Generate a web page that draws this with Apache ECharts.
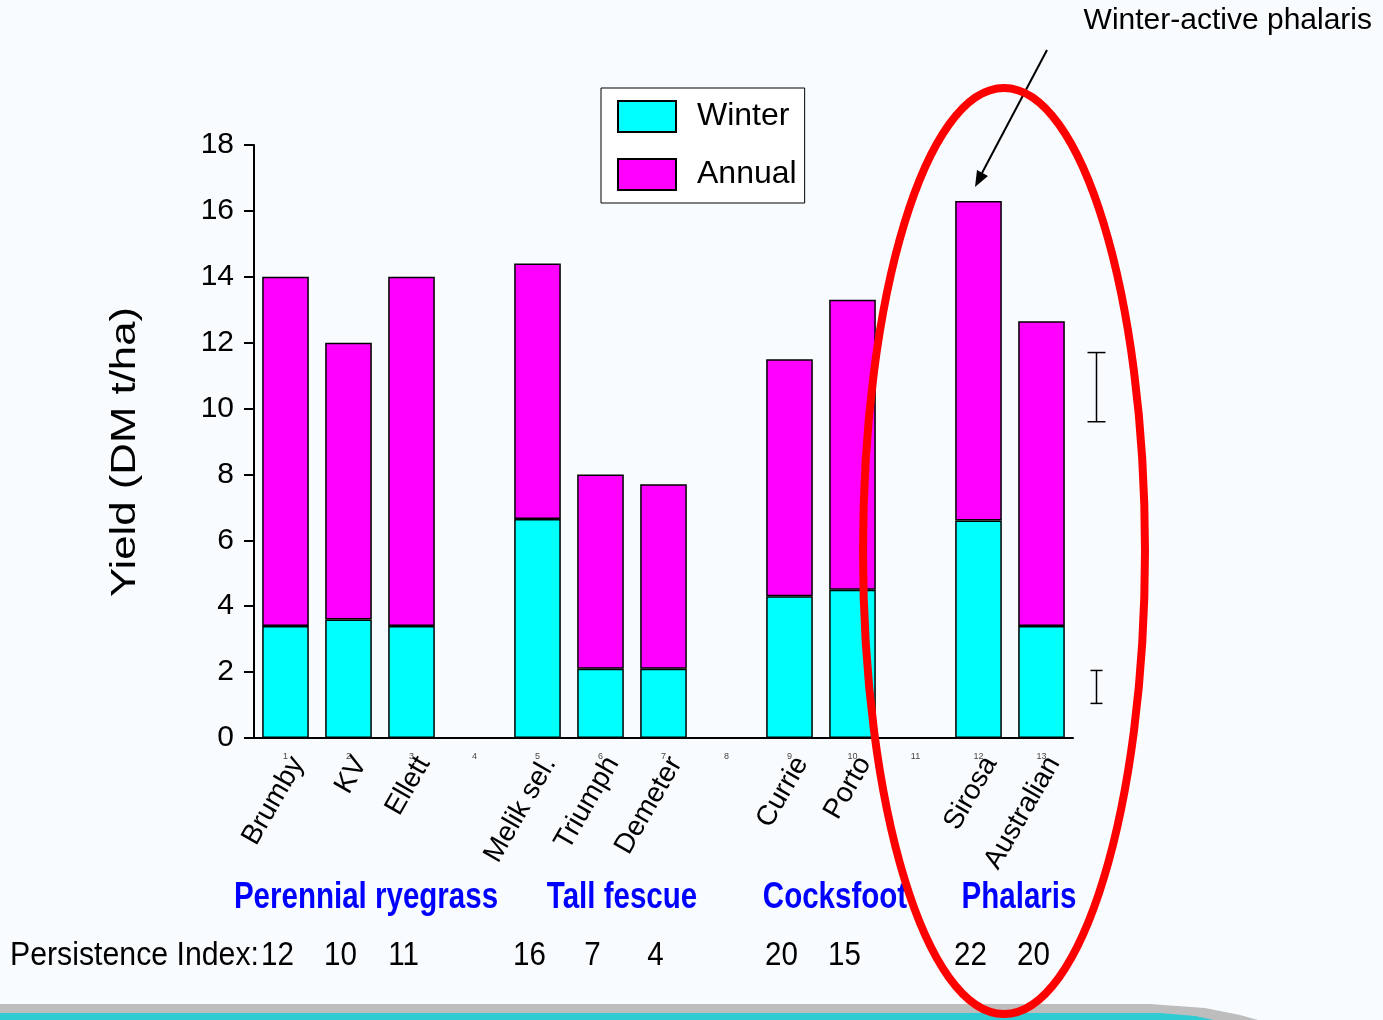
<!DOCTYPE html>
<html>
<head>
<meta charset="utf-8">
<title>Yield</title>
<script src="https://cdn.jsdelivr.net/npm/echarts@6.0.0/dist/echarts.min.js"></script>
<style>
    html, body { margin: 0; padding: 0; background: #f8fcfe; }
    #myChart { width: 1383px; height: 1020px; }
</style>
</head>
<body>
<div id="myChart"></div>
<script>
// cultivars (blank = gap between groups)
let cultivars = ['Brumby', 'KV', 'Ellett', '', 'Melik sel.', 'Triumph', 'Demeter', '', 'Currie', 'Porto', '', 'Sirosa', 'Australian'];
let winterYield = [3.4, 3.6, 3.4, '-', 6.65, 2.1, 2.1, '-', 4.3, 4.5, '-', 6.6, 3.4];
let annualYield = [14.0, 12.0, 14.0, '-', 14.4, 8.0, 7.7, '-', 11.5, 13.3, '-', 16.3, 12.65];
let persistence = [12, 10, 11, '', 16, 7, 4, '', 20, 15, '', 22, 20];
let groups = ['Perennial ryegrass', 'Tall fescue', 'Cocksfoot', 'Phalaris'];
let yTicks = [0, 18, 2];
// LSD bars on the right: [low, high]
let lsdAnnual = [9.6, 11.7];
let lsdWinter = [1.05, 2.05];

let font = "'Liberation Sans', Arial, sans-serif";

// annual part sits on top of the winter part
let annualRest = annualYield.map(function (v, i) {
    return v === '-' ? '-' : +(v - winterYield[i]).toFixed(2);
});

let myChart = echarts.init(document.getElementById('myChart'));

let option = {
    backgroundColor: '#f8fcfe',
    animation: false,
    textStyle: { fontFamily: font, color: '#000' },
    grid: { left: 254, right: 310, top: 145, bottom: 282, containLabel: false },
    legend: {
        orient: 'vertical',
        left: 601,
        top: 88,
        data: ['Winter', 'Annual'],
        icon: 'rect',
        backgroundColor: '#fff',
        borderColor: '#000',
        borderWidth: 1,
        padding: [12, 8, 12, 16],
        itemWidth: 58,
        itemHeight: 31,
        itemGap: 25,
        textStyle: { fontSize: 32, fontFamily: font, color: '#000', padding: [0, 0, 0, 16] }
    },
    xAxis: [
        {
            type: 'category',
            data: cultivars,
            axisLine: { lineStyle: { color: '#000', width: 2 } },
            axisTick: { length: 7, lineStyle: { color: '#000', width: 2 } },
            axisLabel: {
                interval: 0, rotate: 60, margin: 14, fontSize: 28, color: '#000', fontFamily: font,
                verticalAlign: 'top'
            }
        },
        {
            type: 'category',
            data: cultivars,
            position: 'bottom',
            axisLine: { show: false },
            axisTick: { inside: true, length: 6, lineStyle: { color: '#000', width: 2 } },
            axisLabel: {
                interval: 0, margin: 14, fontSize: 9, color: '#444',
                formatter: function (v, i) { return String(i + 1); }
            }
        }
    ],
    yAxis: {
        type: 'value',
        min: yTicks[0],
        max: yTicks[1],
        interval: yTicks[2],
        axisLine: { show: true, lineStyle: { color: '#000', width: 2 } },
        axisTick: { show: true, length: 10, lineStyle: { color: '#000', width: 2 } },
        axisLabel: { fontSize: 30, margin: 20, color: '#000' },
        splitLine: { show: false }
    },
    series: [
        {
            name: 'Winter',
            type: 'bar',
            stack: 'yield',
            barWidth: '74%',
            data: winterYield,
            itemStyle: { color: '#00ffff', borderColor: '#000', borderWidth: 1.5 }
        },
        {
            name: 'Annual',
            type: 'bar',
            stack: 'yield',
            data: annualRest,
            itemStyle: { color: '#ff00ff', borderColor: '#000', borderWidth: 1.5 }
        },
        {
            // LSD bars, drawn to the right of the last cultivar
            type: 'custom',
            data: [[12, lsdAnnual[0], lsdAnnual[1], 9], [12, lsdWinter[0], lsdWinter[1], 6]],
            clip: false,
            renderItem: function (params, api) {
                let lo = api.coord([api.value(0), api.value(1)]);
                let hi = api.coord([api.value(0), api.value(2)]);
                let x = lo[0] + 55;
                let w = api.value(3);
                let style = { stroke: '#000', lineWidth: 1.5 };
                return {
                    type: 'group',
                    children: [
                        { type: 'line', shape: { x1: x, y1: lo[1], x2: x, y2: hi[1] }, style: style },
                        { type: 'line', shape: { x1: x - w, y1: lo[1], x2: x + w, y2: lo[1] }, style: style },
                        { type: 'line', shape: { x1: x - w, y1: hi[1], x2: x + w, y2: hi[1] }, style: style }
                    ]
                };
            }
        }
    ]
};

myChart.setOption(option);

// 文字和装饰
let graphics = [
    // slide footer band
    {
        type: 'polygon', z: 1,
        shape: { points: [[0, 1004], [1150, 1004], [1205, 1008], [1240, 1015], [1258, 1020], [0, 1020]] },
        style: { fill: '#bdbdbd' }
    },
    {
        type: 'polygon', z: 2,
        shape: { points: [[0, 1013], [1160, 1013], [1195, 1016], [1214, 1020], [0, 1020]] },
        style: { fill: '#2ecbd2' }
    },
    {
        type: 'text', x: 125, y: 452, rotation: Math.PI / 2, scaleX: 1.25,
        style: { text: 'Yield (DM t/ha)', x: 0, y: 0, align: 'center', verticalAlign: 'middle', font: '35px ' + font, fill: '#000' }
    },
    {
        type: 'text', x: 10, y: 956, scaleX: 0.89,
        style: { text: 'Persistence Index:', x: 0, y: 0, verticalAlign: 'middle', font: '34px ' + font, fill: '#000' }
    },
    {
        type: 'text', z: 5,
        style: { text: 'Winter-active phalaris', x: 1372, y: 21, align: 'right', verticalAlign: 'middle', font: '30px ' + font, fill: '#000' }
    },
    {
        type: 'line', z: 20,
        shape: { x1: 1047, y1: 50, x2: 982, y2: 173 },
        style: { stroke: '#000', lineWidth: 2 }
    },
    {
        type: 'polygon', z: 20,
        shape: { points: [[975, 187], [988, 176], [977, 170]] },
        style: { fill: '#000' }
    },
    {
        type: 'ellipse', z: 30,
        shape: { cx: 1004, cy: 551, rx: 141, ry: 463 },
        style: { fill: null, stroke: '#ff0000', lineWidth: 8 }
    }
];

// group names
let groupPos = [366, 622, 835, 1019];
groups.forEach(function (g, i) {
    graphics.push({
        type: 'text', z: 5, x: groupPos[i], y: 898, scaleX: 0.82,
        style: { text: g, x: 0, y: 0, align: 'center', verticalAlign: 'middle', font: 'bold 36px ' + font, fill: '#0000ff' }
    });
});

// persistence index under each cultivar
persistence.forEach(function (p, i) {
    if (p === '') return;
    let px = myChart.convertToPixel({ xAxisIndex: 0 }, i);
    graphics.push({
        type: 'text', z: 5, x: px - 8, y: 956, scaleX: 0.87,
        style: { text: String(p), x: 0, y: 0, align: 'center', verticalAlign: 'middle', font: '34px ' + font, fill: '#000' }
    });
});

myChart.setOption({ graphic: graphics });
</script>
</body>
</html>
